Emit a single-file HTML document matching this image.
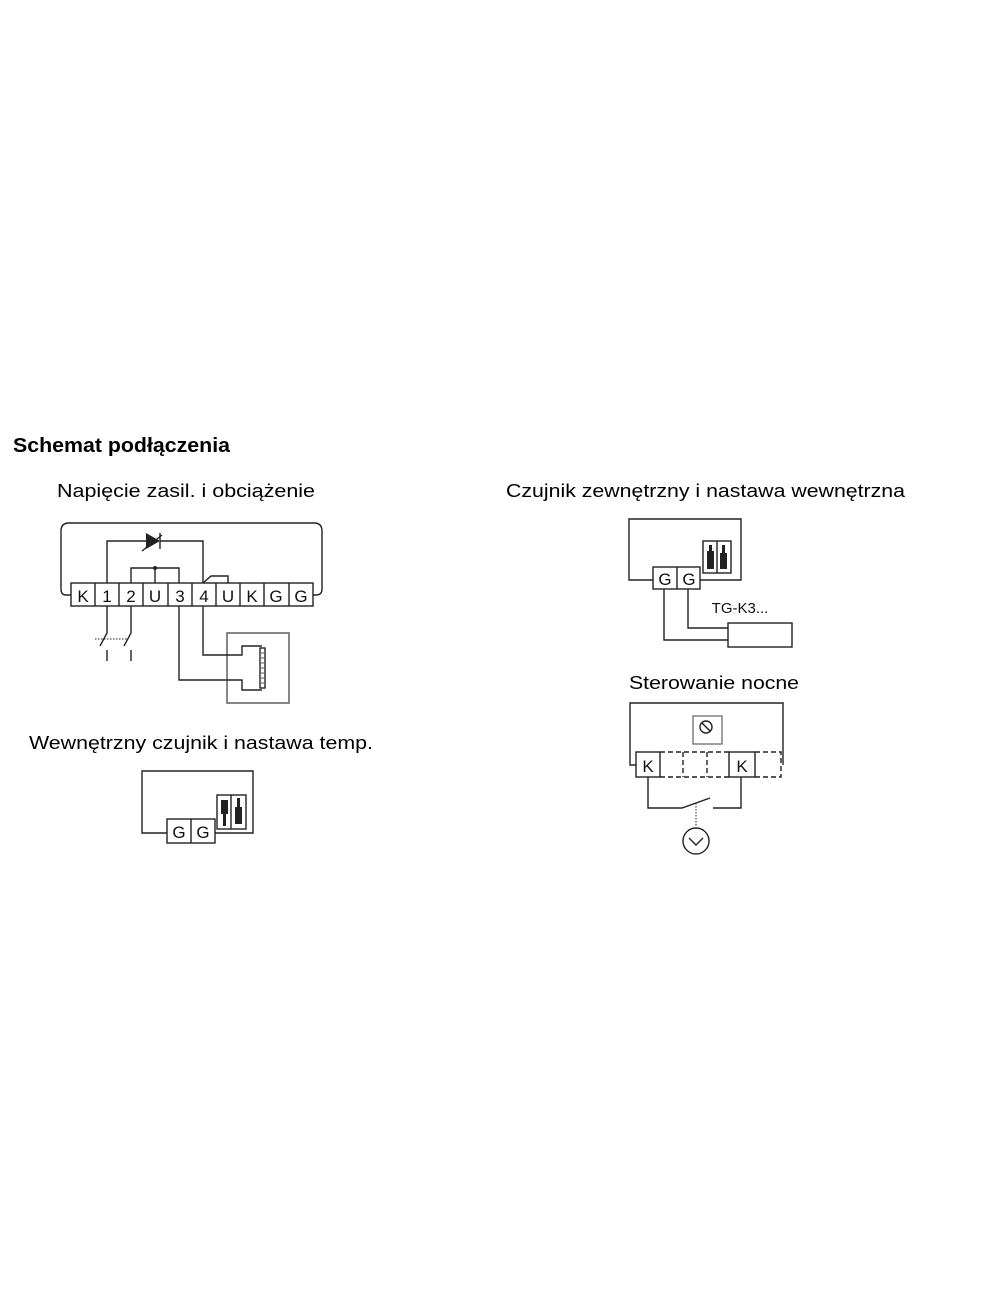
<!DOCTYPE html>
<html><head><meta charset="utf-8"><style>html,body{margin:0;padding:0;background:#fff}svg{display:block}</style></head>
<body>
<svg width="1000" height="1300" viewBox="0 0 1000 1300" xmlns="http://www.w3.org/2000/svg" font-family="Liberation Sans, sans-serif">
<text x="13" y="452" font-size="20" font-weight="bold" textLength="217" lengthAdjust="spacingAndGlyphs">Schemat podłączenia</text>
<text x="57" y="497" font-size="18.5" textLength="258" lengthAdjust="spacingAndGlyphs">Napięcie zasil. i obciążenie</text>
<text x="506" y="497" font-size="18.5" textLength="399" lengthAdjust="spacingAndGlyphs">Czujnik zewnętrzny i nastawa wewnętrzna</text>
<text x="629" y="689" font-size="18.5" textLength="170" lengthAdjust="spacingAndGlyphs">Sterowanie nocne</text>
<text x="29" y="749" font-size="18.5" textLength="344" lengthAdjust="spacingAndGlyphs">Wewnętrzny czujnik i nastawa temp.</text>

<g fill="none" stroke="#222" stroke-width="1.4">
<path d="M71,595 L66,595 Q61,595 61,589 L61,531 Q61,523 69,523 L314,523 Q322,523 322,531 L322,589 Q322,595 316,595 L313,595"/>
<rect x="71" y="583" width="242" height="23"/>
<path d="M95,583V606M119,583V606M143,583V606M168,583V606M192,583V606M216,583V606M240,583V606M264,583V606M289,583V606"/>
<path d="M107,583V541H146M160,541H203V583"/>
<path d="M131,583V568H179V583M155,568V583"/>
<path d="M203,583L211,576H228V583"/>
<path d="M107,606V633L100,646M131,606V633L124,646M107,650V661M131,650V661"/>
<path d="M95,639H128" stroke-dasharray="1.5,1.5" stroke-width="1"/>
<rect x="227" y="633" width="62" height="70" stroke="#555"/>
<path d="M179,606V680H242V690H262M203,606V655H242V646H262"/>
<rect x="260" y="648" width="5" height="40"/>
<path d="M261,653H264M261,658H264M261,663H264M261,668H264M261,673H264M261,678H264M261,683H264" stroke-width="0.8"/>
<path d="M142,551L162,535"/>
<path d="M160,533V549"/>
<path d="M653,580H629V519H741V580H700"/>
<rect x="653" y="567" width="47" height="22"/>
<path d="M677,567V589"/>
<path d="M664,589V640H728M688,589V628H728"/>
<rect x="728" y="623" width="64" height="24"/>
<rect x="703" y="541" width="28" height="32"/>
<path d="M717,541V573"/>
<path d="M167,833H142V771H253V833H215"/>
<rect x="167" y="819" width="48" height="24"/>
<path d="M191,819V843"/>
<rect x="217" y="795" width="29" height="34"/>
<path d="M231,795V829"/>
<path d="M636,765H630V703H783V765"/>
<rect x="636" y="752" width="24" height="25"/>
<rect x="729" y="752" width="26" height="25"/>
<path d="M660,752H729M660,777H729M755,752H781V777H755M683,752V777M707,752V777" stroke-dasharray="5,3"/>
<rect x="693" y="716" width="29" height="28" stroke="#777"/>
<circle cx="706" cy="727" r="6"/>
<path d="M702,723L710,731"/>
<path d="M648,777V808H682L710,798M713,808H741V777"/>
<path d="M696,803V826" stroke-dasharray="1.5,1.5" stroke-width="1"/>
<circle cx="696" cy="841" r="13"/>
<path d="M689,838L696,845L703,838"/>
</g>
<g fill="#222"><path d="M146,533L160,541L146,549Z"/><circle cx="155" cy="568" r="2"/></g>
<g fill="#222">
<rect x="707" y="551" width="7" height="18"/><rect x="709" y="545" width="3" height="8"/>
<rect x="720" y="553" width="7" height="16"/><rect x="722" y="545" width="3" height="10"/>
<rect x="221" y="800" width="7" height="14"/><rect x="223" y="812" width="3" height="14"/>
<rect x="235" y="807" width="7" height="17"/><rect x="237" y="798" width="3" height="11"/>
</g>
<g font-size="17" text-anchor="middle" fill="#111" font-family="Liberation Sans Narrow, Liberation Sans, sans-serif">
<text x="83" y="602">K</text><text x="107" y="602">1</text><text x="131" y="602">2</text><text x="155" y="602">U</text><text x="180" y="602">3</text><text x="204" y="602">4</text><text x="228" y="602">U</text><text x="252" y="602">K</text><text x="276" y="602">G</text><text x="301" y="602">G</text>
<text x="665" y="585">G</text><text x="689" y="585">G</text>
<text x="179" y="838">G</text><text x="203" y="838">G</text>
<text x="648" y="772">K</text><text x="742" y="772">K</text>
<text x="740" y="613" font-size="15">TG-K3...</text>
</g>
</svg>
</body></html>
